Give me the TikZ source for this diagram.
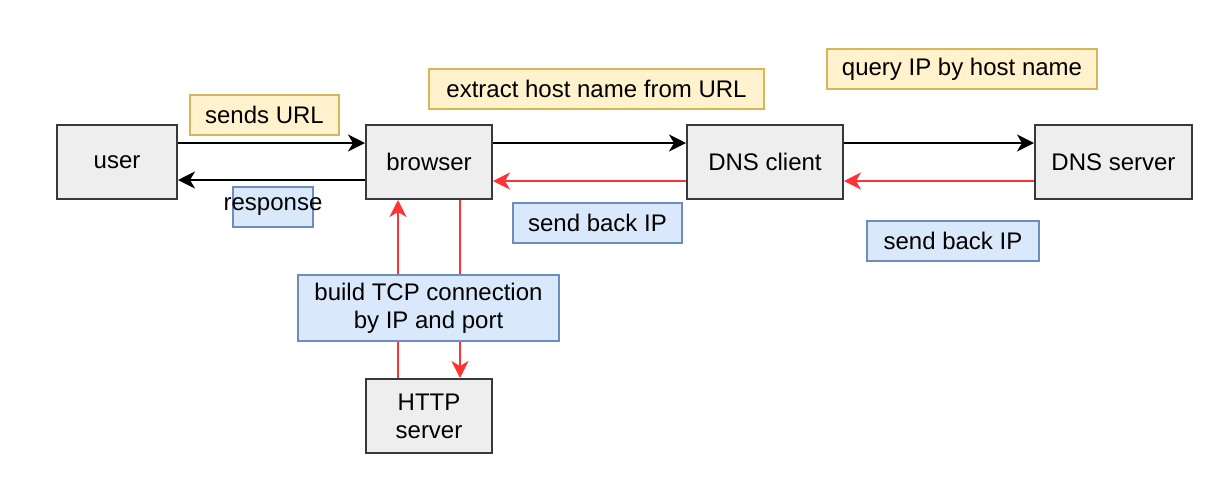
\documentclass[tikz,border=0pt]{standalone}
\usepackage{fontspec}
\setmainfont{Liberation Sans}
\usetikzlibrary{arrows.meta}
\definecolor{grayfill}{HTML}{EEEEEE}
\definecolor{graydraw}{HTML}{36393D}
\definecolor{yelfill}{HTML}{FFF2CC}
\definecolor{yeldraw}{HTML}{D6B656}
\definecolor{bluefill}{HTML}{DAE8FC}
\definecolor{bluedraw}{HTML}{6C8EBF}
\definecolor{redline}{HTML}{FF3333}
\tikzset{
  proc/.style={draw=graydraw, fill=grayfill, line width=1pt, minimum height=37pt, inner sep=0pt, font=\fontsize{12pt}{14pt}\selectfont, align=center},
  yel/.style={draw=yeldraw, fill=yelfill, line width=1pt, minimum height=20pt, inner sep=0pt, font=\fontsize{12pt}{14pt}\selectfont},
  blu/.style={draw=bluedraw, fill=bluefill, line width=1pt, minimum height=20pt, inner sep=0pt, font=\fontsize{12pt}{14pt}\selectfont, align=center},
  blk/.style={draw=black, line width=1pt, -{Stealth[length=8.5pt,width=8.5pt,inset=2.5pt]}},
  red/.style={draw=redline, line width=1pt, -{Stealth[length=8.5pt,width=8.5pt,inset=2.5pt]}},
  redplain/.style={draw=redline, line width=1pt},
}
\begin{document}
\begin{tikzpicture}[x=0.5pt,y=-0.5pt]
\useasboundingbox (0,0) rectangle (1228,478);
% main boxes
\node[proc, minimum width=60pt] (user) at (117,162) {user};
\node[proc, minimum width=63pt] (browser) at (429,162) {browser};
\node[proc, minimum width=78pt] (dnsc) at (765,162) {DNS client};
\node[proc, minimum width=78.5pt] (dnss) at (1113.5,162) {DNS server};
\node[proc, minimum width=63pt] (http) at (429,416) {HTTP\\server};
% connectors
\draw[blk] (user.east |- 0,143) -- (browser.west |- 0,143);
\draw[blk] (browser.west |- 0,180) -- (user.east |- 0,180);
\draw[blk] (browser.east |- 0,143) -- (dnsc.west |- 0,143);
\draw[red] (dnsc.west |- 0,181) -- (browser.east |- 0,181);
\draw[blk] (dnsc.east |- 0,143) -- (dnss.west |- 0,143);
\draw[red] (dnss.west |- 0,181) -- (dnsc.east |- 0,181);
\draw[red] (http.north -| 398,0) -- (browser.south -| 398,0);
\draw[red] (browser.south -| 460,0) -- (http.north -| 460,0);
% labels
\node[yel, minimum width=74.5pt] (lsend) at (264.5,115) {sends URL};
\node[yel, minimum width=167.5pt] (lextract) at (596.5,89) {extract host name from URL};
\node[yel, minimum width=135pt] (lquery) at (962,69) {query IP by host name};
\node[blu, minimum width=40pt] (lresp) at (273,207) {\makebox[0pt]{response}};
\node[blu, minimum width=84.5pt] (lback1) at (597.5,223) {send back IP};
\node[blu, minimum width=86pt] (lback2) at (953,241) {send back IP};
\node[blu, minimum width=130.5pt, minimum height=33pt] (ltcp) at (428.5,308) {build TCP connection\\by IP and port};
\end{tikzpicture}
\end{document}
